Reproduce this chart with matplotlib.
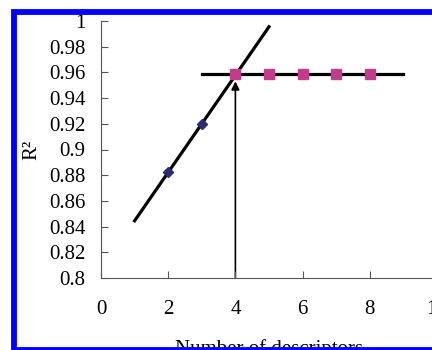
import matplotlib.pyplot as plt
from matplotlib.patches import Rectangle

# data
diamond_x = [2, 3, 4]
diamond_y = [0.8827, 0.9195, 0.9588]
square_x = [4, 5, 6, 7, 8]
square_y = [0.9588, 0.9588, 0.9588, 0.9588, 0.9588]
fit_x = [1, 5]
fit_y = [0.8445, 0.9955]
plateau_x = [3, 9]
plateau_y = [0.9588, 0.9588]
arrow_x = 4
arrow_y = [0.8, 0.953]
xticks = [0, 2, 4, 6, 8, 10]
yticks = [0.8, 0.82, 0.84, 0.86, 0.88, 0.9, 0.92, 0.94, 0.96, 0.98, 1]
ytick_labels = ['0.8', '0.82', '0.84', '0.86', '0.88', '0.9', '0.92',
                '0.94', '0.96', '0.98', '1']

plt.rcParams['font.family'] = 'Liberation Serif'

W, H = 432, 350
fig = plt.figure(figsize=(W / 100, H / 100), dpi=100)
ax = fig.add_axes([101 / W, 72 / H, 336 / W, 257 / H])

ax.plot(fit_x, fit_y, color='black', lw=2.3, zorder=2)
ax.plot(plateau_x, plateau_y, color='black', lw=2.3, zorder=2)
ax.plot(diamond_x, diamond_y, 'D', color='#2b2b70', markersize=5.5, zorder=3, ls='none')
ax.plot(square_x, square_y, 's', color='#c23c8c', markersize=6.5, zorder=4, ls='none')
ax.annotate('', xy=(arrow_x, arrow_y[1]), xytext=(arrow_x, arrow_y[0]),
            arrowprops=dict(arrowstyle='-|>', color='black', lw=1.2,
                            mutation_scale=12, shrinkA=0, shrinkB=0), zorder=1)

ax.set_xlim(0, 10)
ax.set_ylim(0.8, 1)
ax.set_xticks(xticks)
ax.set_yticks(yticks)
ax.set_yticklabels(ytick_labels)
ax.spines['top'].set_visible(False)
ax.spines['right'].set_visible(False)
ax.spines['left'].set_color('#555555')
ax.spines['bottom'].set_color('#555555')
ax.tick_params(direction='in', length=5, labelsize=15, color='#555555', pad=11)
ax.tick_params(axis='x', pad=16)
ax.set_xlabel('Number of descriptors', fontsize=15, labelpad=14)
ax.set_ylabel('R²', fontsize=15, labelpad=6)

# blue frame around the figure (right side cropped)
fig.patches.append(Rectangle((13.5 / W, 0), 1.1, (H - 12) / H,
                             transform=fig.transFigure, fill=False,
                             edgecolor='#0000ff', lw=4.2, zorder=10))

fig.savefig('out.png', dpi=100)
